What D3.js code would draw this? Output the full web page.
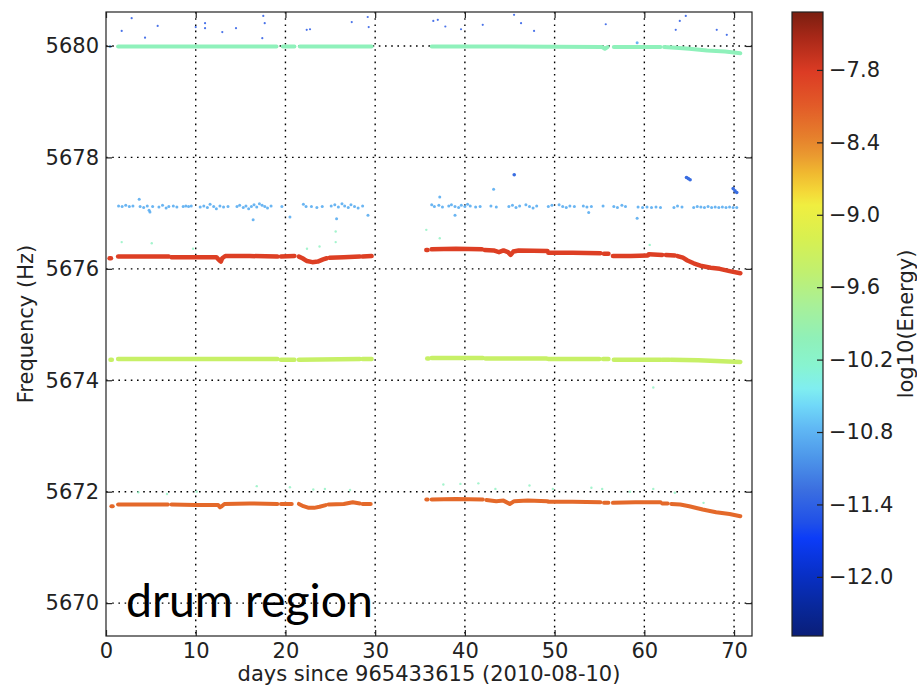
<!DOCTYPE html>
<html><head><meta charset="utf-8">
<script src="https://cdn.jsdelivr.net/npm/d3@7"></script>
<style>
body{margin:0;background:#fff}
text{font-family:"DejaVu Sans",sans-serif}
</style>
</head><body>
<svg id="c" width="917" height="686"></svg>
<script>
// ---------------- data ----------------
const xTicks = [0,10,20,30,40,50,60,70];
const yTicks = [5670,5672,5674,5676,5678,5680];
const cbTicks = [-7.8,-8.4,-9.0,-9.6,-10.2,-10.8,-11.4,-12.0];
const xDomain = [0,72];
const yDomain = [5669.41,5680.61];
const eDomain = [-12.49,-7.32];

// colormap stops (log10 energy -> colour)
const cmapE = [-12.49,-12.24,-11.97,-11.68,-11.55,-11.27,-11.0,-10.77,-10.58,-10.44,-10.25,-10.02,-9.75,-9.48,-9.19,-8.92,-8.81,-8.65,-8.51,-8.36,-8.09,-7.82,-7.53,-7.32];
const cmapC = ["#0a1e78","#08289c","#0830c8","#0c3cf8","#2050e8","#3c70e0","#4e98ea","#60b8f4","#70d8f8","#80eef0","#88f4d0","#90f0b8","#a8f098","#c0f070","#d8f050","#f0ee40","#f4d838","#f0b830","#ea9a30","#e6802c","#e25a28","#dc3c24","#a82818","#7a1e10"];

// dense bands: segments of [day, frequency]
const band5676 = [
 [[0.4,5676.19],[0.55,5676.19]],
 [[1.35,5676.22],[4,5676.22],[7.0,5676.22]],
 [[7.3,5676.21],[10,5676.21],[12.3,5676.21],[12.65,5676.15],[12.8,5676.13],[12.95,5676.19],[13.3,5676.23],[16,5676.23],[19.1,5676.22]],
 [[19.5,5676.22],[21.0,5676.23]],
 [[21.5,5676.22],[21.9,5676.19],[22.4,5676.14],[23.0,5676.12],[23.6,5676.13],[24.2,5676.17],[24.6,5676.19]],
 [[24.9,5676.2],[26.5,5676.21],[28.3,5676.22]],
 [[28.6,5676.22],[29.6,5676.23]],
 [[35.7,5676.34],[35.85,5676.34]],
 [[36.3,5676.35],[39,5676.36],[41.9,5676.35]],
 [[42.2,5676.34],[43.2,5676.33],[43.8,5676.3],[44.3,5676.33],[44.8,5676.3],[45.1,5676.25],[45.4,5676.31],[46,5676.33],[49.2,5676.32]],
 [[49.3,5676.29],[52,5676.29],[55.1,5676.28]],
 [[55.5,5676.27],[56.0,5676.27]],
 [[56.5,5676.23],[58.5,5676.23],[60.4,5676.24]],
 [[60.5,5676.26],[62.0,5676.25]],
 [[62.4,5676.25],[63.4,5676.24]],
 [[63.7,5676.23],[64.3,5676.2],[64.8,5676.15],[65.5,5676.1],[66.4,5676.05],[67.4,5676.02],[68.4,5676.0],[69.5,5675.96],[70.7,5675.92]]
];
const band5672 = [
 [[0.6,5671.74],[0.75,5671.74]],
 [[1.35,5671.77],[4,5671.77],[6.9,5671.77]],
 [[7.3,5671.77],[10,5671.76],[12.5,5671.76],[12.7,5671.72],[12.9,5671.74],[13.2,5671.78],[16,5671.79],[19.1,5671.78]],
 [[19.5,5671.78],[20.7,5671.78]],
 [[21.5,5671.78],[22.0,5671.74],[22.6,5671.71],[23.2,5671.71],[23.8,5671.73],[24.5,5671.76]],
 [[24.8,5671.77],[26.5,5671.78],[27.5,5671.81],[28.3,5671.79]],
 [[28.6,5671.78],[29.5,5671.78]],
 [[35.7,5671.86],[35.85,5671.86]],
 [[36.3,5671.86],[39,5671.87],[42.0,5671.86]],
 [[42.4,5671.85],[43.5,5671.83],[44.3,5671.84],[45.0,5671.78],[45.5,5671.83],[47,5671.84],[49.2,5671.83]],
 [[49.3,5671.82],[52,5671.82],[55.1,5671.81]],
 [[55.5,5671.8],[56.0,5671.8]],
 [[56.5,5671.8],[59,5671.81],[61.8,5671.81]],
 [[62.0,5671.79],[62.6,5671.79]],
 [[63.0,5671.78],[64.0,5671.77],[65.0,5671.74],[66.5,5671.68],[68.0,5671.63],[69.5,5671.6],[70.7,5671.56]]
];
const band5674 = [
 [[0.5,5674.37],[0.65,5674.37]],
 [[1.35,5674.38],[10,5674.38],[19.1,5674.38]],
 [[19.5,5674.37],[21.0,5674.37]],
 [[21.5,5674.37],[28.3,5674.38]],
 [[28.6,5674.38],[29.6,5674.38]],
 [[35.8,5674.39],[35.95,5674.39]],
 [[36.3,5674.4],[40,5674.4],[42.0,5674.4]],
 [[42.3,5674.39],[49.1,5674.39]],
 [[49.3,5674.38],[55.0,5674.38]],
 [[55.4,5674.38],[56.0,5674.38]],
 [[56.6,5674.37],[61.8,5674.37]],
 [[62.0,5674.37],[62.8,5674.37]],
 [[63.0,5674.37],[66,5674.36],[70.7,5674.33]]
];
const band5680 = [
 [[1.35,5679.99],[10,5679.99],[19.0,5679.99]],
 [[19.7,5679.99],[21.0,5679.99]],
 [[21.6,5679.99],[29.6,5679.99]],
 [[36.3,5679.99],[45,5679.99],[55.3,5679.98],[55.6,5679.95],[55.9,5679.98]],
 [[56.6,5679.98],[61.8,5679.98]],
 [[62.2,5679.98],[63.5,5679.97],[65,5679.95],[67,5679.92],[69,5679.9],[70.7,5679.87]]
];
const bandEnergy = {b5676:-7.85, b5672:-8.2, b5674:-9.4, b5680:-10.05};

// scattered light-blue points (~5677.1 Hz)
const lbPts = [
 [0.45,5679.99],[59.2,5680.06],
 [1.4,5677.13],[1.8,5677.12],[2.2,5677.14],[2.6,5677.12],[3.0,5677.13],
 [3.7,5677.25],[3.8,5677.12],[4.2,5677.1],[4.6,5677.13],[4.8,5677.05],[4.9,5677.02],[5.2,5677.12],
 [5.9,5677.11],[6.3,5677.14],[6.7,5677.09],[7.0,5677.12],[7.5,5677.13],[7.9,5677.11],
 [8.6,5677.12],[8.9,5677.13],[9.2,5677.12],[9.5,5677.13],
 [10.5,5677.11],[10.9,5677.13],[11.3,5677.1],[11.6,5677.16],[12.0,5677.12],[12.3,5677.08],[12.7,5677.13],[13.1,5677.11],[13.6,5677.12],
 [14.6,5677.12],[14.9,5677.14],[15.3,5677.1],[15.6,5677.13],[15.9,5677.08],[16.2,5677.12],[16.5,5677.15],[16.8,5677.11],[17.1,5677.17],[17.4,5677.14],[17.7,5677.12],[18.0,5677.09],[18.4,5677.13],
 [16.4,5676.88],[19.6,5677.12],[20.5,5676.93],
 [22.0,5677.16],[22.3,5677.12],[22.9,5677.12],[23.5,5677.1],[24.1,5677.12],
 [25.1,5677.13],[25.5,5677.15],[25.9,5677.11],[26.3,5677.17],[26.6,5677.13],[27.0,5677.1],[27.3,5677.15],[27.7,5677.12],[28.1,5677.09],[28.6,5677.13],
 [25.7,5676.9],[29.2,5676.96],
 [36.3,5677.15],[36.6,5677.12],[37.1,5677.14],[37.2,5677.29],[37.5,5677.11],
 [38.2,5677.13],[38.5,5677.15],[38.9,5677.12],[39.3,5677.1],[39.6,5677.14],[40.0,5677.12],[40.3,5677.16],[40.6,5677.13],
 [38.9,5676.96],[41.2,5677.11],[41.7,5677.12],
 [42.9,5677.13],[43.5,5677.11],[43.2,5677.43],
 [44.9,5677.12],[45.3,5677.14],[45.7,5677.1],[46.1,5677.13],
 [46.8,5677.15],[47.2,5677.12],[47.6,5677.09],[48.0,5677.13],
 [49.3,5677.12],[49.7,5677.14],
 [50.5,5677.15],[50.9,5677.12],[51.3,5677.1],[51.7,5677.13],[52.2,5677.12],
 [53.2,5677.13],[53.6,5677.11],[54.1,5677.12],[53.8,5677.01],
 [55.4,5677.13],
 [56.6,5677.12],[57.0,5677.1],[57.5,5677.14],[57.9,5677.12],
 [59.3,5677.11],[59.8,5677.1],[60.3,5677.11],[60.8,5677.1],[61.3,5677.11],[61.8,5677.1],[59.2,5676.91],
 [63.3,5677.1],[63.7,5677.13],[64.2,5677.11],
 [65.5,5677.1],[65.9,5677.12],[66.3,5677.11],[66.7,5677.1],[67.1,5677.12],[67.5,5677.1],[67.9,5677.11],[68.3,5677.1],[68.7,5677.11],[69.1,5677.1],[69.5,5677.11],[69.9,5677.1],[70.3,5677.1]
];
const lbEnergy = -10.85;

// sparse blue points above 5680 Hz
const topPts = [
 [1.75,5680.27],[2.86,5680.5],[4.35,5680.15],[5.76,5680.36],[10.0,5680.34],[11.04,5680.41],[11.04,5680.32],
 [12.96,5680.25],[14.49,5680.32],[17.53,5680.54],[17.69,5680.41],[17.42,5680.14],[22.37,5680.29],[22.74,5680.3],
 [27.39,5680.43],[29.17,5680.52],[29.28,5680.34],
 [36.48,5680.45],[36.98,5680.47],[37.82,5680.35],[39.57,5680.3],[41.99,5680.38],[45.48,5680.56],[46.26,5680.41],
 [47.71,5680.27],[55.7,5680.39],[63.5,5680.29],[63.95,5680.45],[64.62,5680.54],[68.07,5680.29],[69.19,5680.2]
];
const topEnergy = -11.45;

// darker blue streaks near 5677.5 Hz
const streakPts = [[45.5,5677.69],[64.7,5677.64],[64.9,5677.62],[65.1,5677.6],[69.9,5677.44],[70.1,5677.4],[70.3,5677.37]];
const streakEnergy = -11.3;

// faint green points
const greenPts = [
 [3.6,5671.99],[6.8,5671.96],[10.1,5672.0],[16.8,5672.1],[20.5,5672.08],[23.1,5672.04],[24.4,5672.05],[27.2,5672.03],
 [37.6,5672.13],[39.5,5672.14],[41.5,5672.15],[43.4,5672.05],[47.2,5672.11],[49.8,5672.05],[54.1,5672.07],[55.3,5672.05],
 [58.4,5672.0],[61.0,5672.05],[63.4,5671.98],[66.6,5671.8],[61.0,5673.87],
 [1.75,5676.48],[5.1,5676.46],[9.7,5676.36],[22.4,5676.36],[23.8,5676.4],[25.6,5676.67],[25.6,5676.48],
 [35.7,5676.7],[37.2,5676.55],[60.6,5676.43]
];
const greenEnergy = -10.1;

// ---------------- drawing ----------------
const svg = d3.select("#c");
const x = d3.scaleLinear().domain(xDomain).range([106,752]);
const y = d3.scaleLinear().domain(yDomain).range([636,12]);
const cb = d3.scaleLinear().domain(eDomain).range([636,12]);
const color = d3.scaleLinear().domain(cmapE).range(cmapC).clamp(true);

// grid
const grid = svg.append("g").attr("stroke","#000").attr("stroke-width",1.4).attr("stroke-dasharray","1.6,4.6");
grid.selectAll("line.gx").data(xTicks.filter(d=>d>0)).join("line")
  .attr("x1",d=>x(d)).attr("x2",d=>x(d)).attr("y1",y.range()[1]).attr("y2",y.range()[0]);
grid.selectAll("line.gy").data(yTicks).join("line")
  .attr("y1",d=>y(d)).attr("y2",d=>y(d)).attr("x1",x.range()[0]).attr("x2",x.range()[1]);

const line = d3.line().x(d=>x(d[0])).y(d=>y(d[1]));
function drawBand(band, e, w){
  svg.append("g").selectAll("path").data(band).join("path")
    .attr("d",line).attr("fill","none").attr("stroke",color(e))
    .attr("stroke-width",w).attr("stroke-linecap","round").attr("stroke-linejoin","round");
}
drawBand(band5680, bandEnergy.b5680, 4);
drawBand(band5674, bandEnergy.b5674, 4.5);
drawBand(band5672, bandEnergy.b5672, 4);
drawBand(band5676, bandEnergy.b5676, 4.5);

function drawPts(pts, e, r, op){
  svg.append("g").selectAll("circle").data(pts).join("circle")
    .attr("cx",d=>x(d[0])).attr("cy",d=>y(d[1])).attr("r",r)
    .attr("fill",color(e)).attr("fill-opacity",op);
}
drawPts(greenPts, greenEnergy, 1.2, 0.8);
drawPts(lbPts, lbEnergy, 1.5, 0.9);
drawPts(topPts, topEnergy, 1.1, 0.85);
drawPts(streakPts, streakEnergy, 1.8, 1);

// frame
svg.append("rect").attr("x",106).attr("y",12).attr("width",646).attr("height",624)
  .attr("fill","none").attr("stroke","#222").attr("stroke-width",1.2);

function styleAxis(g){
  g.select(".domain").remove();
  g.selectAll("line").attr("stroke","#222").attr("stroke-width",1.2);
  g.selectAll("text").attr("fill","#222").style("font-size","21px").style("font-family","DejaVu Sans");
}
svg.append("g").attr("transform","translate(0,636)")
  .call(d3.axisBottom(x).tickValues(xTicks).tickFormat(d3.format("d")).tickSize(-6).tickPadding(7)).call(styleAxis);
svg.append("g").attr("transform","translate(0,12)")
  .call(d3.axisTop(x).tickValues(xTicks).tickFormat("").tickSize(-6)).call(styleAxis);
svg.append("g").attr("transform","translate(106,0)")
  .call(d3.axisLeft(y).tickValues(yTicks).tickFormat(d3.format("d")).tickSize(-6).tickPadding(7)).call(styleAxis);
svg.append("g").attr("transform","translate(752,0)")
  .call(d3.axisRight(y).tickValues(yTicks).tickFormat("").tickSize(-6)).call(styleAxis);

// axis labels
svg.append("text").attr("x",429).attr("y",681).attr("text-anchor","middle")
  .attr("fill","#222").style("font-size","21px").text("days since 965433615 (2010-08-10)");
svg.append("text").attr("transform","translate(33,324) rotate(-90)").attr("text-anchor","middle")
  .attr("fill","#222").style("font-size","21px").text("Frequency (Hz)");

// annotation
svg.append("text").attr("x",126).attr("y",617)
  .attr("textLength",247).attr("lengthAdjust","spacingAndGlyphs")
  .style("font-family","Lato").style("font-size","47px").attr("fill","#000").text("drum region");

// colour bar
const defs = svg.append("defs");
const grad = defs.append("linearGradient").attr("id","cbg").attr("x1",0).attr("y1",1).attr("x2",0).attr("y2",0);
grad.selectAll("stop").data(cmapE).join("stop")
  .attr("offset",d=>(d-eDomain[0])/(eDomain[1]-eDomain[0]))
  .attr("stop-color",d=>color(d));
svg.append("rect").attr("x",792).attr("y",12).attr("width",31).attr("height",624)
  .attr("fill","url(#cbg)").attr("stroke","#222").attr("stroke-width",1.2);
svg.append("g").attr("transform","translate(823,0)")
  .call(d3.axisRight(cb).tickValues(cbTicks).tickFormat(d3.format(".1f")).tickSize(-6).tickPadding(6)).call(styleAxis);
svg.append("text").attr("transform","translate(913,324) rotate(-90)").attr("text-anchor","middle")
  .attr("fill","#222").style("font-size","21px").text("log10(Energy)");
</script>
</body></html>
